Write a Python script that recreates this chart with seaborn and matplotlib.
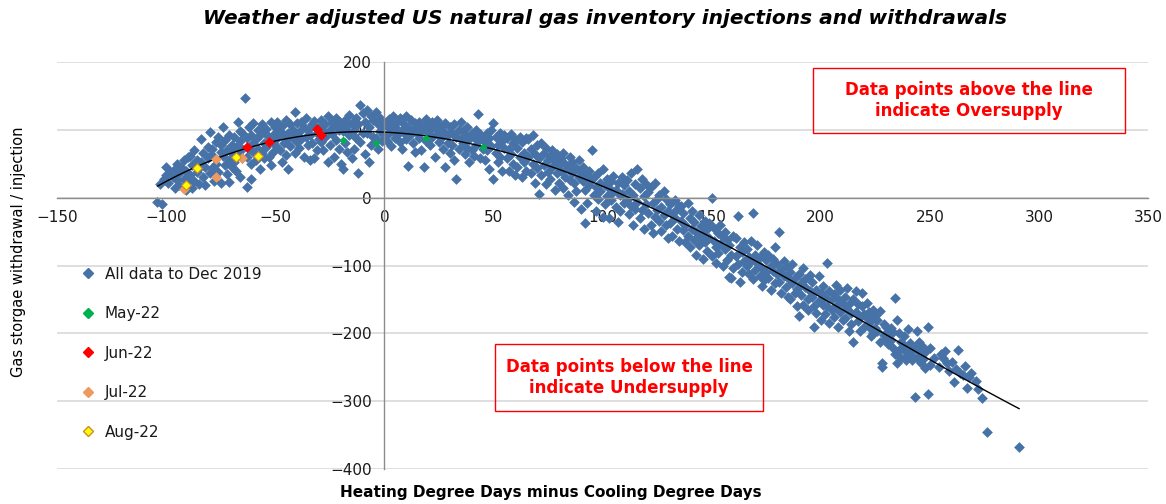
import matplotlib
matplotlib.use("Agg")
import matplotlib.pyplot as plt
from matplotlib.lines import Line2D
from matplotlib.patches import Rectangle
import seaborn as sns
import pandas as pd

# History: heating minus cooling degree days vs weather adjusted storage change (to Dec 2019)
hist_x = [
    -104, -102, -103, -101, -100, -100,
    -99, -98, -97, -96, -96, -95, -95,
    -94, -94, -93, -92, -92, -91, -91, -90, -90,
    -89, -89, -88, -88, -87, -87, -86, -86, -85, -85,
    -84, -84, -83, -83, -82, -82, -81, -81, -80, -80, -80,
    -79, -79, -78, -78, -77, -77, -76, -76, -75, -75, -75,
    -74, -74, -73, -73, -72, -72, -71, -71, -71, -70, -70, -70,
    -69, -69, -68, -68, -67, -67, -66, -66, -66, -65, -65, -65,
    -64, -63, -63, -63, -62, -62, -61, -61, -61, -60, -60, -60,
    -59, -59, -58, -58, -57, -57, -56, -56, -55, -55, -55,
    -54, -54, -53, -53, -52, -52, -51, -51, -50, -50, -50,
    -49, -49, -48, -48, -47, -47, -46, -46, -45, -45, -45,
    -44, -44, -43, -43, -42, -42, -41, -41, -41, -40, -40,
    -39, -39, -38, -38, -37, -37, -36, -36, -35, -35,
    -34, -34, -33, -33, -32, -32, -31, -31, -30, -30,
    -29, -29, -28, -28, -27, -27, -26, -26, -25, -25,
    -24, -24, -23, -23, -22, -22, -21, -21, -20, -20,
    -19, -19, -18, -18, -17, -17, -16, -16, -15, -15,
    -14, -14, -13, -13, -12, -12, -11, -11, -10, -10,
    -9, -9, -8, -8, -7, -7, -6, -6, -5, -5,
    -4, -4, -3, -3, -2, -2, -1, -1, 0, 0,
    1, 1, 2, 2, 3, 3, 4, 4, 5, 5,
    6, 6, 7, 7, 8, 8, 9, 9, 10, 10,
    11, 11, 12, 12, 13, 13, 14, 14, 15, 15,
    16, 16, 17, 17, 18, 18, 19, 19, 20, 20,
    21, 21, 22, 22, 23, 23, 24, 24, 25, 25,
    26, 26, 27, 27, 28, 28, 29, 29, 30, 30,
    31, 31, 32, 32, 33, 33, 34, 34, 35, 35,
    36, 36, 37, 37, 38, 38, 39, 39, 40, 40,
    41, 41, 42, 42, 43, 43, 44, 44, 45, 45,
    46, 46, 47, 47, 48, 48, 49, 49, 50, 50,
    51, 51, 52, 52, 53, 53, 54, 54, 55, 55,
    56, 56, 57, 57, 58, 58, 59, 59, 60, 60,
    61, 61, 62, 62, 63, 63, 64, 64, 65, 65,
    66, 66, 67, 67, 68, 68, 69, 69, 70, 70,
    71, 71, 72, 72, 73, 73, 74, 74, 75, 75,
    76, 76, 77, 77, 78, 78, 79, 79, 80, 80,
    81, 81, 82, 82, 83, 83, 84, 84, 85, 85,
    86, 86, 87, 87, 88, 88, 89, 89, 90, 90,
    91, 91, 92, 92, 93, 93, 94, 94, 95, 95,
    96, 96, 97, 97, 98, 98, 99, 99, 100, 100,
    101, 101, 102, 102, 103, 103, 104, 104, 105, 105,
    106, 106, 107, 107, 108, 108, 109, 109, 110, 110,
    111, 111, 112, 112, 113, 113, 114, 114, 115, 115,
    116, 116, 117, 117, 118, 118, 119, 119, 120, 120,
    121, 121, 122, 122, 123, 123, 124, 124, 125, 125,
    126, 126, 127, 127, 128, 128, 129, 129, 130, 130,
    131, 131, 132, 132, 133, 133, 134, 134, 135, 135,
    136, 136, 137, 137, 138, 138, 139, 139, 140, 140,
    141, 141, 142, 142, 143, 143, 144, 144, 145, 145,
    146, 146, 147, 147, 148, 148, 149, 149, 150, 150,
    151, 151, 152, 152, 153, 153, 154, 154, 155, 155,
    156, 156, 157, 157, 158, 158, 159, 159, 160, 160,
    161, 161, 162, 162, 163, 163, 164, 164, 165, 165,
    166, 166, 167, 167, 168, 168, 169, 169, 170, 170,
    171, 171, 172, 172, 173, 173, 174, 174, 175, 175,
    176, 176, 177, 177, 178, 178, 179, 179, 180, 180,
    181, 181, 182, 182, 183, 183, 184, 184, 185, 185,
    186, 186, 187, 187, 188, 188, 189, 189, 190, 190,
    191, 191, 192, 192, 193, 193, 194, 194, 195, 195,
    196, 196, 197, 197, 198, 198, 199, 199, 200, 200,
    201, 201, 202, 202, 203, 203, 204, 204, 205, 205,
    206, 206, 207, 207, 208, 208, 209, 209, 210, 210,
    211, 211, 212, 212, 213, 213, 214, 214, 215, 215,
    216, 216, 217, 217, 218, 218, 219, 219, 220, 220,
    221, 221, 222, 222, 223, 223, 224, 224, 225, 225,
    226, 226, 227, 227, 228, 228, 229, 229, 230, 230,
    231, 231, 232, 232, 233, 233, 234, 234, 235, 235,
    236, 236, 237, 237, 238, 238, 239, 239, 240, 240,
    241, 241, 242, 242, 243, 243, 244, 244, 245, 245,
    246, 246, 247, 247, 248, 248, 249, 249, 250, 250,
    252, 254, 255, 256, 257, 258, 259, 260,
    261, 262, 263, 264, 265, 266, 267, 268, 269,
    271, 272, 274, 276, 291,
]
hist_y = [
    -7, -10, 20, 27, 45, 33,
    22, 38, 30, 15, 42, 26, 50,
    19, 36, 45, 28, 55, 12, 40, 24, 60,
    33, 62, 15, 48, 25, 70, 38, 55, 20, 44,
    87, 52, 30, 66, 45, 18, 75, 58, 97, 36, 62,
    44, 72, 25, 60, 82, 50, 38, 90, 67, 22, 78,
    104, 62, 48, 85, 70, 35, 93, 55, 23, 78, 45, 66,
    90, 52, 75, 40, 111, 65, 98, 30, 83, 58, 72, 95,
    147, 16, 88, 60, 104, 72, 28, 92, 50, 80, 110, 67,
    86, 55, 100, 72, 43, 93, 66, 108, 80, 58, 97,
    75, 102, 60, 90, 112, 48, 84, 68, 96, 104, 78,
    111, 88, 70, 98, 52, 106, 80, 92, 63, 115, 85,
    43, 95, 108, 76, 88, 100, 127, 66, 92, 82, 110,
    97, 74, 112, 86, 60, 104, 90, 118, 78, 100,
    55, 92, 108, 80, 58, 113, 95, 70, 104, 86,
    115, 82, 98, 70, 108, 90, 52, 120, 100, 77,
    94, 112, 60, 105, 85, 118, 100, 72, 110, 50,
    42, 98, 115, 80, 106, 68, 122, 92, 58, 110,
    100, 72, 118, 88, 37, 108, 136, 82, 125, 95,
    112, 65, 130, 96, 52, 104, 120, 78, 90, 115,
    126, 88, 108, 72, 98, 118, 84, 104, 112, 92,
    105, 84, 116, 96, 76, 110, 100, 120, 88, 104,
    112, 92, 82, 118, 100, 72, 108, 96, 120, 86,
    104, 47, 94, 114, 80, 100, 110, 68, 96, 106,
    88, 112, 98, 70, 46, 104, 116, 84, 95, 108,
    100, 78, 112, 90, 60, 104, 94, 114, 82, 98,
    88, 106, 72, 98, 110, 45, 92, 80, 104, 66,
    96, 78, 108, 56, 28, 90, 100, 72, 86, 112,
    80, 98, 64, 92, 104, 74, 86, 52, 96, 70,
    90, 62, 100, 78, 124, 84, 58, 94, 72, 88,
    82, 56, 96, 70, 88, 42, 76, 100, 110, 28,
    66, 90, 78, 52, 96, 60, 84, 40, 74, 92,
    58, 88, 72, 40, 94, 64, 50, 80, 86, 34,
    74, 46, 90, 60, 30, 82, 66, 52, 88, 40,
    60, 86, 36, 72, 50, 92, 22, 64, 78, 44,
    6, 58, 80, 34, 66, 48, 20, 74, 56, 38,
    62, 28, 46, 70, 12, 54, 36, 64, 22, 48,
    40, 58, 14, 66, 30, 50, 4, 44, 60, 26,
    36, 52, -6, 22, 44, 10, 30, 56, -16, 38,
    24, 46, -37, 12, 34, -8, 40, 18, 71, 28,
    4, 30, -20, 16, 36, -2, 22, 10, 43, -28,
    18, -10, 28, 2, -30, 14, 24, -4, 8, 32,
    -14, 12, 22, -36, 4, -20, 30, 6, -8, 18,
    26, -4, -24, 10, 36, -12, 4, -40, 20, -16,
    43, -6, 14, -30, 28, -18, 2, -46, 20, -10,
    -22, 8, -40, 16, -8, -52, 21, -28, -2, -18,
    4, -34, -14, -49, -26, 10, -2, -40, -20, -60,
    -10, -38, -24, -56, -4, -30, -46, -16, -12, -64,
    -34, -12, -48, -22, -66, -40, -8, -56, -30, -72,
    -46, -20, -62, -36, -84, -50, -26, -70, -42, -58,
    -54, -90, -34, -66, -46, -78, -60, -38, 0, -86,
    -64, -44, -96, -72, -52, -82, -40, -68, -100, -58,
    -76, -50, -62, -92, -117, -70, -118, -84, -56, -104,
    -86, -60, -27, -98, -125, -72, -110, -80, -66, -94,
    -100, -76, -88, -112, -64, -94, -22, -120, -84, -106,
    -96, -70, -116, -88, -130, -104, -80, -122, -92, -110,
    -84, -118, -100, -136, -108, -90, -126, -72, -112, -98,
    -50, -124, -106, -140, -94, -116, -132, -100, -146, -118,
    -110, -150, -126, -98, -140, -118, -134, -160, -112, -175,
    -126, -144, -104, -158, -132, -120, -150, -166, -114, -138,
    -146, -124, -190, -160, -136, -170, -116, -152, -140, -180,
    -130, -158, -146, -172, -96, -160, -138, -184, -150, -166,
    -142, -176, -160, -128, -190, -150, -168, -136, -180, -156,
    -177, -146, -133, -164, -197, -156, -186, -170, -150, -212,
    -138, -168, -182, -156, -196, -176, -140, -160, -190, -172,
    -177, -155, -190, -168, -204, -182, -165, -200, -192, -174,
    -196, -180, -212, -167, -244, -249, -186, -202, -208, -190,
    -200, -216, -192, -210, -222, -198, -148, -230, -180, -244,
    -224, -200, -212, -236, -218, -204, -228, -240, -194, -232,
    -226, -214, -233, -240, -294, -222, -197, -236, -227, -212,
    -232, -244, -220, -238, -251, -228, -190, -290, -222, -246,
    -236, -250, -230, -237, -226, -244, -256, -242,
    -271, -253, -225, -258, -262, -248, -280, -265, -258,
    -270, -282, -295, -345, -367,
]

# 2022 months
may_x = [-19, -4, 19, 45]
may_y = [85, 81, 88, 75]
jun_x = [-63, -53, -31, -29]
jun_y = [75, 82, 102, 93]
jul_x = [-77, -77, -65, -92]
jul_y = [57, 31, 59, 13]
aug_x = [-86, -91, -68, -58]
aug_y = [44, 18, 60, 61]

blue = "#4672a8"
green = "#00b050"
red = "#ff0000"
orange = "#ee9a5e"
yellow = "#ffff00"

sns.set_style("white")
plt.rcParams["font.family"] = ["DejaVu Sans"]

fig = plt.figure(figsize=(11.66, 5.04), dpi=100)
ax = fig.add_axes([0.0489, 0.0694, 0.9357, 0.8075])

hist = pd.DataFrame({"x": hist_x, "y": hist_y})
sns.scatterplot(data=hist, x="x", y="y", marker="D", s=30, color=blue,
                linewidth=0, ax=ax, zorder=2)
sns.regplot(data=hist, x="x", y="y", order=3, ci=None, scatter=False,
            line_kws=dict(color="black", lw=1), ax=ax)

sns.scatterplot(x=may_x, y=may_y, marker="D", s=16, color=green, linewidth=0, ax=ax, zorder=4)
sns.scatterplot(x=jun_x, y=jun_y, marker="D", s=30, color=red, linewidth=0, ax=ax, zorder=4)
sns.scatterplot(x=jul_x, y=jul_y, marker="D", s=30, color=orange, linewidth=0, ax=ax, zorder=4)
sns.scatterplot(x=aug_x, y=aug_y, marker="D", s=24, color=yellow, edgecolor="#d08a2a",
                linewidth=0.8, ax=ax, zorder=5)

ax.set_xlim(-150, 350)
ax.set_ylim(-400, 200)
ax.set_xticks(range(-150, 351, 50))
ax.set_yticks(range(-400, 201, 100))
ax.set_xlabel("")
ax.set_ylabel("")

for s in ["top", "right"]:
    ax.spines[s].set_visible(False)
ax.spines["left"].set_position(("data", 0))
ax.spines["bottom"].set_position(("data", 0))
for s in ["left", "bottom"]:
    ax.spines[s].set_color("#8c8c8c")
    ax.spines[s].set_linewidth(1.0)
ax.tick_params(axis="both", direction="out", length=5, width=1, color="#8c8c8c",
               labelsize=11, labelcolor="#1a1a1a", pad=4)
ax.yaxis.grid(True, color="#d9d9d9", lw=1.2)
ax.set_axisbelow(True)

fig.suptitle("Weather adjusted US natural gas inventory injections and withdrawals",
             x=0.519, y=0.982, fontsize=14.5, fontweight="bold", style="italic",
             color="black")
fig.text(0.472, 0.022, "Heating Degree Days minus Cooling Degree Days",
         ha="center", va="center", fontsize=11, fontweight="bold", color="black")
fig.text(0.016, 0.50, "Gas storgae withdrawal / injection", rotation=90,
         ha="center", va="center", fontsize=10.5, color="black")

handles = [
    Line2D([], [], ls="", marker="D", ms=5, color=blue, label="All data to Dec 2019"),
    Line2D([], [], ls="", marker="D", ms=5, color=green, label="May-22"),
    Line2D([], [], ls="", marker="D", ms=5, color=red, label="Jun-22"),
    Line2D([], [], ls="", marker="D", ms=5, color=orange, label="Jul-22"),
    Line2D([], [], ls="", marker="D", ms=5, markerfacecolor=yellow,
           markeredgecolor="#d08a2a", label="Aug-22"),
]
leg = ax.legend(handles=handles, loc="upper left", bbox_to_anchor=(0.057, 0.498),
                bbox_transform=fig.transFigure, frameon=False, fontsize=11,
                labelspacing=1.6, handletextpad=0.6, handlelength=1.0)
for t in leg.get_texts():
    t.set_color("#1a1a1a")

# annotation boxes
fig.patches.append(Rectangle((0.697, 0.736), 0.2676, 0.129, transform=fig.transFigure,
                             fill=False, ec="red", lw=1))
fig.text(0.831, 0.80, "Data points above the line\nindicate Oversupply", ha="center",
         va="center", color="red", fontsize=12, fontweight="bold", linespacing=1.2)
fig.patches.append(Rectangle((0.4245, 0.1845), 0.2298, 0.133, transform=fig.transFigure,
                             fill=False, ec="red", lw=1))
fig.text(0.5395, 0.251, "Data points below the line\nindicate Undersupply", ha="center",
         va="center", color="red", fontsize=12, fontweight="bold", linespacing=1.2)

fig.savefig("out.png", dpi=100)
